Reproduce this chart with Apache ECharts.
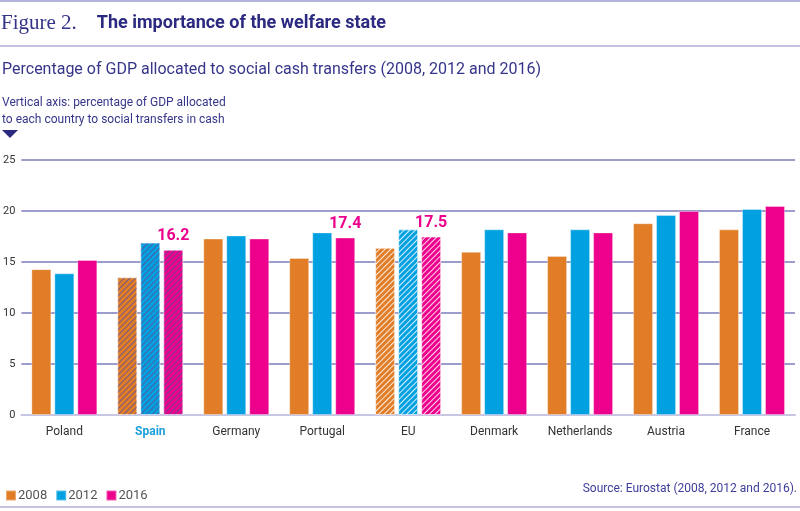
<!DOCTYPE html>
<html>
<head>
<meta charset="utf-8">
<script src="https://cdn.jsdelivr.net/npm/echarts@6/dist/echarts.min.js"></script>
<style>
  html, body { margin: 0; padding: 0; background: #fff; }
  #chart { width: 800px; height: 511px; }
</style>
</head>
<body>
<div id="chart"></div>
<script>
// data
var countries = ["Poland", "Spain", "Germany", "Portugal", "EU", "Denmark", "Netherlands", "Austria", "France"];
var years = ["2008", "2012", "2016"];
var values2008 = [14.3, 13.5, 17.3, 15.4, 16.4, 16.0, 15.6, 18.8, 18.2];
var values2012 = [13.9, 16.9, 17.6, 17.9, 18.2, 18.2, 18.2, 19.6, 20.2];
var values2016 = [15.2, 16.2, 17.3, 17.4, 17.5, 17.9, 17.9, 20.0, 20.5];
var yTicks = [0, 5, 10, 15, 20, 25];
var labelled2016 = ["Spain", "Portugal", "EU"]; // bars that carry a value label

var colors = ["#e07d26", "#00a0e1", "#ec008c"];
var navy = "#2b2a80";

var chartDom = document.getElementById("chart");
var myChart = echarts.init(chartDom, null, { renderer: "canvas" });

// hatching: Spain gets dark stripes, EU gets white ones
function hatch(stripe) {
    return {
        symbol: "rect",
        symbolSize: 1,
        dashArrayX: [1, 0],
        dashArrayY: [1, 2.5],
        rotation: -Math.PI / 4,
        color: stripe
    };
}

function buildData(vals, idx) {
    return vals.map(function (v, i) {
        var item = { value: v };
        if (countries[i] === "Spain") {
            item.itemStyle = { decal: hatch("rgba(95,80,150,0.8)") };
        } else if (countries[i] === "EU") {
            item.itemStyle = { decal: hatch("rgba(255,255,255,0.85)") };
        }
        if (idx === 2 && labelled2016.indexOf(countries[i]) >= 0) {
            item.label = {
                show: true,
                position: "top",
                distance: 6,
                color: "#ec008c",
                fontFamily: "Roboto",
                fontWeight: "bold",
                fontSize: 16,
                formatter: function (p) { return p.value.toFixed(1); }
            };
        }
        return item;
    });
}

var seriesValues = [values2008, values2012, values2016];

var option = {
    animation: false,
    color: colors,
    title: [
        {
            left: 1, top: 13, padding: 0,
            text: "{a|Figure 2.}    {b|The importance of the welfare state}",
            textStyle: {
                rich: {
                    a: { fontFamily: "Liberation Serif", fontWeight: "normal", fontSize: 21, color: "#33338a" },
                    b: { fontFamily: "Roboto", fontWeight: "bold", fontSize: 18, color: navy }
                }
            }
        },
        {
            left: 2, top: 62, padding: 0,
            text: "Percentage of GDP allocated to social cash transfers (2008, 2012 and 2016)",
            textStyle: { fontFamily: "Roboto", fontWeight: "normal", fontSize: 16, color: "#35358a" }
        },
        {
            left: 2, top: 94, padding: 0,
            text: "Vertical axis: percentage of GDP allocated\nto each country to social transfers in cash",
            textStyle: { fontFamily: "Roboto", fontWeight: "normal", fontSize: 12, lineHeight: 17, color: "#35358a" }
        },
        {
            right: 3, top: 483, padding: 0,
            text: "Source: Eurostat (2008, 2012 and 2016).",
            textStyle: { fontFamily: "Roboto", fontWeight: "normal", fontSize: 12, color: "#3d3d9c" }
        }
    ],
    graphic: [
        { type: "rect", shape: { x: 0, y: 0, width: 800, height: 2 }, style: { fill: "#b4b4d8" } },
        { type: "rect", shape: { x: 0, y: 45, width: 800, height: 2 }, style: { fill: "#c4c4e2" } },
        { type: "rect", shape: { x: 0, y: 506, width: 800, height: 2 }, style: { fill: "#c4c4e2" } },
        { type: "polygon", shape: { points: [[2, 130], [18, 130], [10, 138]] }, style: { fill: navy } }
    ],
    legend: {
        left: 0, top: 484,
        icon: "rect",
        itemWidth: 10, itemHeight: 10, itemGap: 8,
        data: years,
        textStyle: { fontFamily: "Roboto", fontSize: 13, color: "#555", padding: [0, 0, 0, -3] }
    },
    grid: { left: 20, right: 5, top: 160, bottom: 96, containLabel: false },
    xAxis: {
        type: "category",
        data: countries,
        axisTick: { show: false },
        axisLine: { lineStyle: { color: "#c7c7e3", width: 2 } },
        axisLabel: {
            margin: 11,
            fontFamily: "Roboto",
            fontSize: 12,
            color: "#333",
            formatter: function (v) { return v === "Spain" ? "{s|" + v + "}" : v; },
            rich: { s: { fontFamily: "Roboto", fontSize: 12, fontWeight: "bold", color: "#1b9fdc" } }
        }
    },
    yAxis: {
        type: "value",
        min: yTicks[0],
        max: yTicks[yTicks.length - 1],
        interval: 5,
        axisLine: { show: false },
        axisTick: { show: false },
        axisLabel: { margin: 6, fontFamily: "Roboto", fontSize: 11, color: "#333" },
        splitLine: { lineStyle: { color: "#9d9dcd", width: 2 } }
    },
    series: seriesValues.map(function (vals, idx) {
        return {
            name: years[idx],
            type: "bar",
            barWidth: 20,
            barGap: "15%",
            itemStyle: { borderColor: "rgba(255,255,255,0.35)", borderWidth: 1 },
            data: buildData(vals, idx)
        };
    })
};

myChart.setOption(option);
</script>
</body>
</html>
